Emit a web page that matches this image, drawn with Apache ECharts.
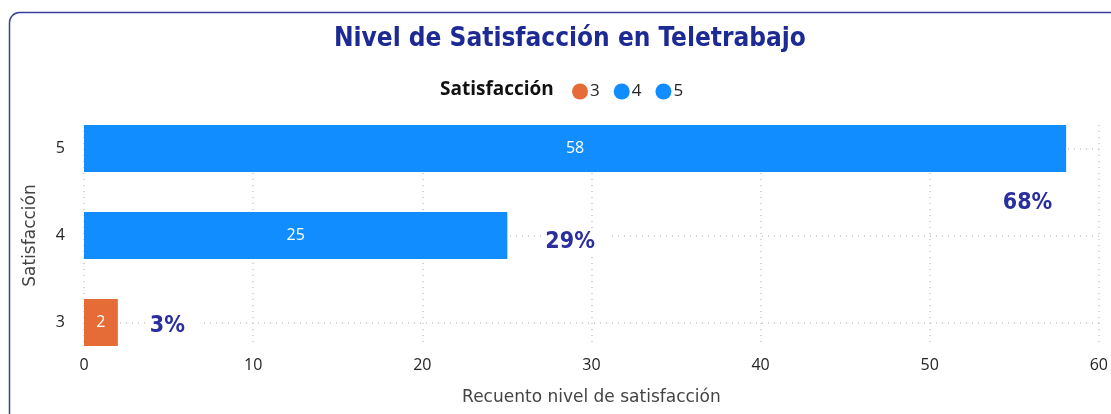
<!DOCTYPE html>
<html>
<head>
<meta charset="utf-8">
<script src="https://cdn.jsdelivr.net/npm/echarts@6/dist/echarts.min.js"></script>
<style>
  html, body { margin: 0; padding: 0; background: #fff; }
  #main { width: 1111px; height: 414px; }
</style>
</head>
<body>
<div id="main"></div>
<script>
// datos
var categorias = ['3', '4', '5'];
var recuento = [2, 25, 58];
var porcentaje = ['3%', '29%', '68%'];
var colores = ['#E66C37', '#118DFF', '#118DFF'];
var ticksX = [0, 10, 20, 30, 40, 50, 60];

var fuenteTitulo = "'DIN', 'Liberation Sans Narrow', 'DejaVu Sans Condensed', 'Roboto', sans-serif";
var fuente = "'Segoe UI', 'Open Sans', 'Noto Sans', sans-serif";
var fuenteEje = "'DejaVu Sans', sans-serif";
var azulOscuro = '#2A2E9E';

// una serie por categoria (asi la leyenda queda como en Power BI)
var series = categorias.map(function(cat, i) {
    return {
        name: cat,
        type: 'bar',
        stack: 'total',
        xAxisIndex: 0,
        yAxisIndex: 0,
        barWidth: 47,
        z: 2,
        itemStyle: { color: colores[i] },
        label: {
            show: true,
            position: 'inside',
            color: '#fff',
            fontSize: 16,
            fontFamily: fuente
        },
        data: categorias.map(function(c, j) { return j === i ? recuento[j] : '-'; })
    };
});

// serie transparente con las etiquetas de porcentaje + lineas horizontales
series.push({
    name: 'pct',
    type: 'bar',
    xAxisIndex: 0,
    yAxisIndex: 0,
    barWidth: 47,
    barGap: '-100%',
    z: 3,
    silent: true,
    itemStyle: { color: 'rgba(0,0,0,0)' },
    label: {
        show: true,
        position: 'right',
        distance: 30,
        formatter: function(p) { return porcentaje[p.dataIndex]; },
        color: azulOscuro,
        fontSize: 23,
        fontWeight: 'bold',
        fontFamily: fuenteTitulo,
        backgroundColor: '#fff',
        padding: [2, 14, 2, 4]
    },
    markLine: {
        silent: true,
        symbol: 'none',
        z: 1,
        label: { show: false },
        lineStyle: { color: '#C8C6C4', type: [1, 5], width: 1.5 },
        data: categorias.map(function(c) { return { yAxis: c }; })
    },
    data: recuento.map(function(v, i) {
        if (i === 0) {
            return { value: v, label: { distance: 28, offset: [0, 4] } };
        }
        if (i === 1) {
            return { value: v, label: { distance: 34, offset: [0, 7] } };
        }
        // la etiqueta del 5 no cabe a la derecha: va debajo de la barra
        return {
            value: v,
            label: { position: ['99%', '166%'], align: 'right', verticalAlign: 'middle', padding: [2, 4, 2, 4] }
        };
    })
});

var option = {
    animation: false,
    textStyle: { fontFamily: fuente },
    title: [{
        text: 'Nivel de Satisfacción en Teletrabajo',
        left: 329,
        top: 21,
        textStyle: { color: '#1E2A94', fontSize: 26, fontWeight: 'bold', fontFamily: fuenteTitulo }
    }, {
        text: 'Satisfacción',
        left: 435,
        top: 75,
        textStyle: { color: '#111', fontSize: 19, fontWeight: 'bold', fontFamily: fuente }
    }],
    legend: {
        left: 567,
        top: 78,
        icon: 'circle',
        itemWidth: 16,
        itemHeight: 16,
        itemGap: 14,
        data: categorias,
        textStyle: { color: '#252423', fontSize: 17, fontFamily: fuente, padding: [0, 0, 0, -3] }
    },
    grid: [
        { left: 84, right: 11, top: 105, bottom: 48 },   // barras
        { left: 84, right: 11, top: 125, bottom: 68 }    // ejes / rejilla
    ],
    xAxis: [{
        type: 'value',
        gridIndex: 0,
        min: ticksX[0],
        max: ticksX[ticksX.length - 1],
        interval: 10,
        show: false
    }, {
        type: 'value',
        gridIndex: 1,
        min: ticksX[0],
        max: ticksX[ticksX.length - 1],
        interval: 10,
        name: 'Recuento nivel de satisfacción',
        nameLocation: 'middle',
        nameGap: 43,
        nameTextStyle: { color: '#444', fontSize: 17, fontFamily: fuenteEje },
        axisLine: { show: false },
        axisTick: { show: false },
        axisLabel: { color: '#252423', fontSize: 16, margin: 11, fontFamily: fuente },
        splitLine: { show: true, lineStyle: { color: '#C8C6C4', type: [1, 5], width: 1.5 } }
    }],
    yAxis: [{
        type: 'category',
        gridIndex: 0,
        data: categorias,
        name: 'Satisfacción',
        nameLocation: 'middle',
        nameGap: 45,
        nameRotate: 90,
        nameTextStyle: { color: '#444', fontSize: 17, fontFamily: fuenteEje },
        axisLine: { show: false },
        axisTick: { show: false },
        axisLabel: { color: '#252423', fontSize: 16, margin: 19, fontFamily: fuente },
        splitLine: { show: false }
    }, {
        type: 'category',
        gridIndex: 1,
        data: categorias,
        show: false
    }],
    graphic: [{
        type: 'rect',
        silent: true,
        z: -10,
        shape: { x: 9.5, y: 12.5, width: 1300, height: 600, r: 10 },
        style: { fill: 'none', stroke: '#3A3F9E', lineWidth: 1.5 }
    }],
    series: series
};

var chart = echarts.init(document.getElementById('main'));
chart.setOption(option);
</script>
</body>
</html>
